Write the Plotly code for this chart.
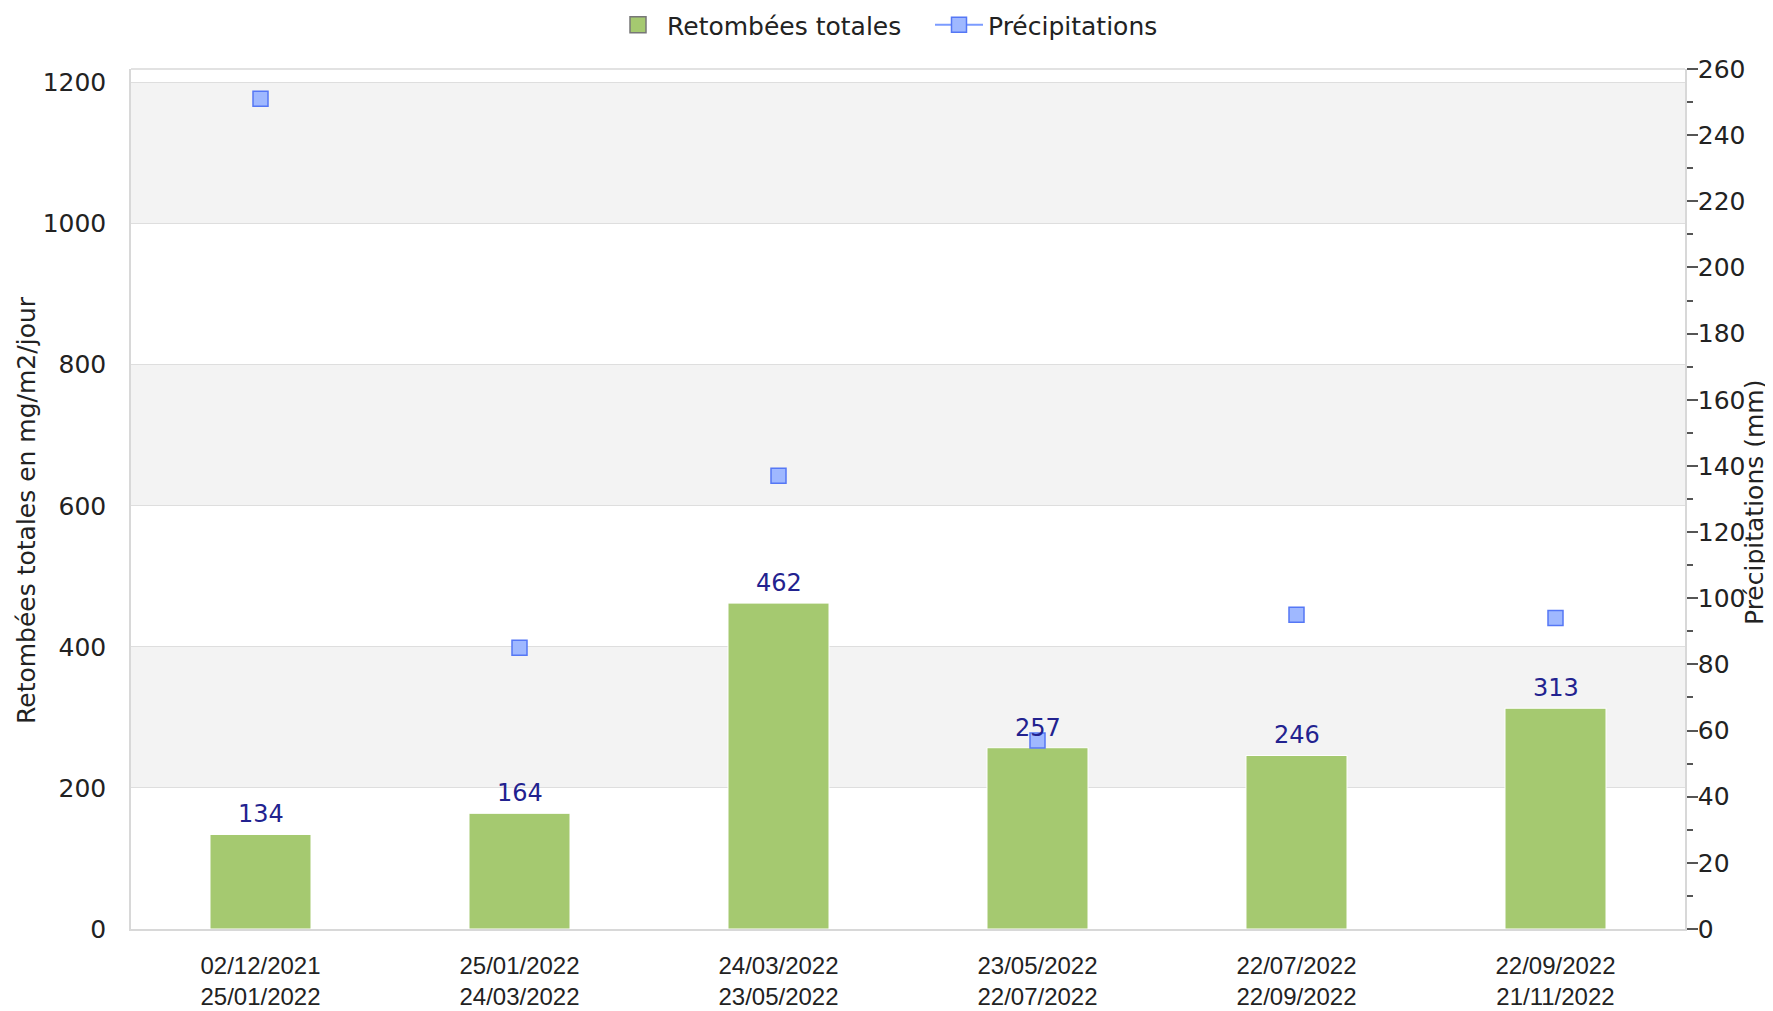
import plotly.graph_objects as go

periods = ["02/12/2021<br>25/01/2022", "25/01/2022<br>24/03/2022", "24/03/2022<br>23/05/2022",
           "23/05/2022<br>22/07/2022", "22/07/2022<br>22/09/2022", "22/09/2022<br>21/11/2022"]
retombees = [134, 164, 462, 257, 246, 313]
precipitations = [251, 85, 137, 57, 95, 94]
left_ticks = [0, 200, 400, 600, 800, 1000, 1200]
right_ticks = list(range(0, 261, 20))

FONT = "DejaVu Sans"
FS = 25
OFF = 8  # default page body margin
W, H = 1773 - OFF, 1011 - OFF
ml, mt = 131 - OFF, 69 - OFF
mr = W - (1685 - OFF)
mb = H - (929 - OFF)
pw, ph = W - ml - mr, H - mt - mb

GREEN = "#a5c970"

fig = go.Figure()
fig.add_trace(go.Bar(
    x=periods, y=retombees, name="Retombées totales", showlegend=False,
    marker=dict(color=GREEN, line=dict(color="white", width=1)),
    width=0.39, yaxis="y",
))
# legend entry for the bars (square swatch with grey border)
fig.add_trace(go.Scatter(
    x=[None], y=[None], name="Retombées totales", mode="markers",
    marker=dict(symbol="square", size=16, color=GREEN, line=dict(color="#777777", width=1.5)),
))
# interleave None so no connecting line is drawn, but legend shows line+marker
px, py = [], []
for c, v in zip(periods, precipitations):
    px += [c, None]
    py += [v, None]
fig.add_trace(go.Scatter(
    x=px, y=py, name="Précipitations", mode="lines+markers", yaxis="y2",
    connectgaps=False,
    line=dict(color="#7b9bff", width=2),
    marker=dict(symbol="square", size=15, color="#9fb8ff", line=dict(color="#5577f5", width=1.5)),
))

# data labels
for c, v in zip(periods, retombees):
    fig.add_annotation(x=c, y=v, text=str(v), showarrow=False, yref="y", yanchor="bottom",
                       yshift=4, font=dict(family=FONT, size=24, color="#22228f"))

# alternating bands
for i in range(1, len(left_ticks) - 1, 2):
    fig.add_shape(type="rect", xref="paper", yref="y", x0=0, x1=1,
                  y0=left_ticks[i], y1=left_ticks[i + 1],
                  fillcolor="#f3f3f3", line=dict(width=0), layer="below")

fig.add_annotation(text="Retombées totales en mg/m2/jour", xref="paper", yref="paper",
                   x=(27 - 131) / pw, y=(929 - 510) / ph, textangle=-90, showarrow=False,
                   xanchor="center", yanchor="middle",
                   font=dict(family=FONT, size=FS, color="#222222"))
fig.add_annotation(text="Précipitations (mm)", xref="paper", yref="paper",
                   x=(1754 - 131) / pw, y=(929 - 503) / ph, textangle=-90, showarrow=False,
                   xanchor="center", yanchor="middle",
                   font=dict(family=FONT, size=FS, color="#222222"))

fig.update_layout(
    template="none",
    width=W, height=H,
    margin=dict(l=ml, r=mr, t=mt, b=mb, autoexpand=False),
    paper_bgcolor="white", plot_bgcolor="white",
    font=dict(family=FONT, size=FS, color="#222222"),
    showlegend=True,
    legend=dict(orientation="h", xref="container", yref="container",
                x=(634 - OFF - 25) / W, xanchor="left", y=1 - (25 - OFF) / H, yanchor="middle",
                font=dict(family=FONT, size=FS, color="#222222"),
                itemwidth=48, entrywidth=258, bgcolor="rgba(0,0,0,0)"),
    xaxis=dict(type="category", range=[-0.5, 5.5], showgrid=False, showline=True, linecolor="#d8d8d8",
               linewidth=1.5, mirror=False, ticks="", ticklabelstandoff=14, automargin=False,
               zeroline=False,
               tickfont=dict(family="Liberation Sans", size=24, color="#222222")),
    yaxis=dict(range=[0, 1200 * 761 / 749], tickvals=left_ticks, showgrid=True, gridcolor="#dedede",
               gridwidth=1, showline=True, linecolor="#d8d8d8", linewidth=1.5, zeroline=False,
               ticks="", ticklabelstandoff=18, automargin=False,
               tickfont=dict(family=FONT, size=FS, color="#222222")),
    yaxis2=dict(range=[0, 260], tickvals=right_ticks, overlaying="y", side="right", showgrid=False,
                showline=True, linecolor="#d8d8d8", linewidth=1.5, zeroline=False, automargin=False,
                ticks="outside", ticklen=11, tickcolor="#555555", tickwidth=1.5, ticklabelstandoff=-5,
                minor=dict(dtick=10, ticks="outside", ticklen=6, tickcolor="#555555", tickwidth=1.5, showgrid=False),
                tickfont=dict(family=FONT, size=FS, color="#222222")),
    bargap=0.6,
)
# top border line
fig.add_shape(type="line", xref="paper", yref="paper", x0=0, x1=1, y0=1, y1=1,
              line=dict(color="#d8d8d8", width=1.5))

fig.write_html("out.html")
